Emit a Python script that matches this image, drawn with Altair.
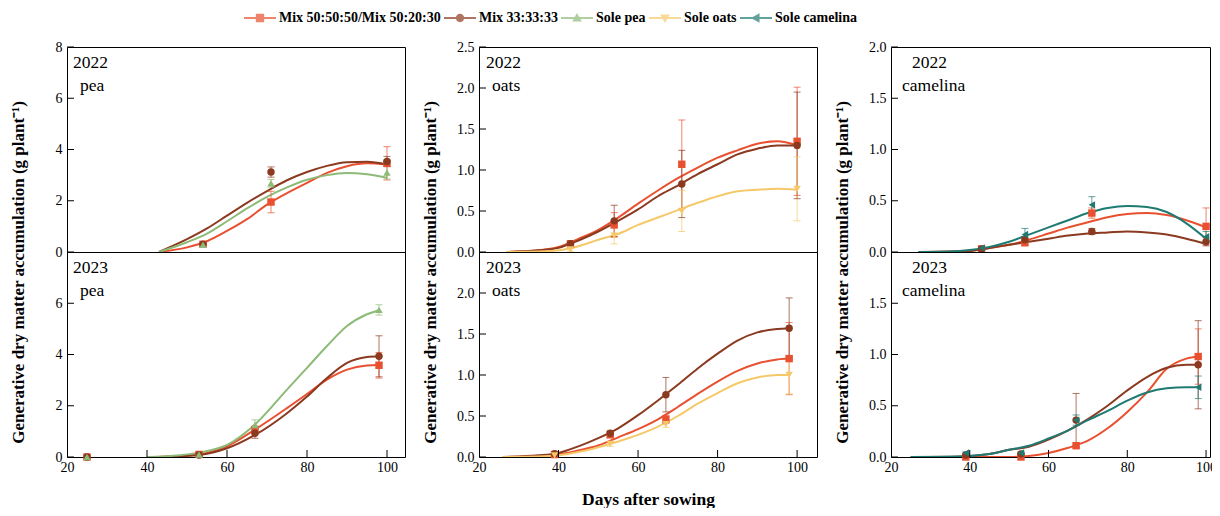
import altair as alt
import pandas as pd

# ---------------- series definitions ----------------
SERIES = ["Mix 50:50:50/Mix 50:20:30", "Mix 33:33:33", "Sole pea", "Sole oats", "Sole camelina"]
COLORS = ["#E8502F", "#8B3A20", "#8DBB77", "#F5C96A", "#1F7A72"]
SHAPES = ["square", "circle", "triangle-up", "triangle-down", "triangle-left"]
LEGEND_PATHS = [
    "M-1,-0.06H1V0.06H-1Z M-0.26,-0.26H0.26V0.26H-0.26Z",
    "M-1,-0.06H1V0.06H-1Z M-0.26,0A0.26,0.26 0 1,1 0.26,0A0.26,0.26 0 1,1 -0.26,0Z",
    "M-1,-0.06H1V0.06H-1Z M0,-0.32L0.3,0.22L-0.3,0.22Z",
    "M-1,-0.06H1V0.06H-1Z M-0.3,-0.22L0.3,-0.22L0,0.32Z",
    "M-1,-0.06H1V0.06H-1Z M-0.32,0L0.22,-0.3L0.22,0.3Z",
]

# ---------------- pea 2022 ----------------
PEA22_CX = [43, 50, 55, 60, 65, 70, 75, 80, 85, 90, 95, 100]
PEA22_C_MIX50 = [0, 0.18, 0.42, 0.82, 1.28, 1.85, 2.3, 2.7, 3.09, 3.35, 3.46, 3.41]
PEA22_C_MIX33 = [0, 0.5, 0.92, 1.42, 1.92, 2.38, 2.8, 3.12, 3.36, 3.5, 3.52, 3.42]
PEA22_C_SOLE = [0, 0.38, 0.72, 1.2, 1.7, 2.15, 2.52, 2.82, 3.0, 3.08, 3.03, 2.9]
PEA22_PX = [54, 71, 100]
PEA22_P_MIX50 = [0.3, 1.95, 3.46]
PEA22_E_MIX50 = [0.05, 0.42, 0.65]
PEA22_P_MIX33 = [0.3, 3.12, 3.53]
PEA22_E_MIX33 = [0.05, 0.2, 0.2]
PEA22_P_SOLE = [0.28, 2.68, 3.1]
PEA22_E_SOLE = [0.05, 0.15, 0.25]

# ---------------- pea 2023 ----------------
PEA23_CX = [40, 45, 53, 60, 67, 75, 80, 85, 90, 95, 98]
PEA23_C_MIX50 = [0, 0.02, 0.1, 0.42, 1.07, 1.91, 2.46, 3.02, 3.41, 3.57, 3.59]
PEA23_C_MIX33 = [0, 0.01, 0.08, 0.34, 0.86, 1.71, 2.36, 3.08, 3.67, 3.9, 3.93]
PEA23_C_SOLE = [0, 0.03, 0.17, 0.47, 1.27, 2.63, 3.48, 4.33, 5.11, 5.57, 5.73]
PEA23_PX = [25, 53, 67, 98]
PEA23_P_MIX50 = [0, 0.1, 1.06, 3.58]
PEA23_E_MIX50 = [0, 0.03, 0.15, 0.5]
PEA23_P_MIX33 = [0, 0.08, 0.93, 3.93]
PEA23_E_MIX33 = [0, 0.03, 0.2, 0.8]
PEA23_P_SOLE = [0, 0.1, 1.25, 5.74]
PEA23_E_SOLE = [0, 0.03, 0.2, 0.2]

# ---------------- oats 2022 ----------------
OAT22_CX = [27, 35, 40, 45, 50, 55, 60, 65, 70, 75, 80, 85, 90, 95, 100]
OAT22_C_MIX50 = [0, 0.02, 0.06, 0.16, 0.27, 0.42, 0.59, 0.75, 0.9, 1.03, 1.15, 1.24, 1.32, 1.35, 1.3]
OAT22_C_MIX33 = [0, 0.02, 0.05, 0.14, 0.25, 0.38, 0.52, 0.68, 0.81, 0.95, 1.07, 1.19, 1.26, 1.3, 1.3]
OAT22_C_SOLE = [0, 0.005, 0.02, 0.07, 0.15, 0.22, 0.33, 0.42, 0.51, 0.6, 0.68, 0.74, 0.76, 0.77, 0.76]
OAT22_PX = [43, 54, 71, 100]
OAT22_P_MIX50 = [0.1, 0.33, 1.07, 1.35]
OAT22_E_MIX50 = [0.03, 0.15, 0.54, 0.66]
OAT22_P_MIX33 = [0.1, 0.38, 0.83, 1.3]
OAT22_E_MIX33 = [0.03, 0.19, 0.41, 0.65]
OAT22_P_SOLE = [0.03, 0.2, 0.5, 0.77]
OAT22_E_SOLE = [0.02, 0.1, 0.25, 0.39]

# ---------------- oats 2023 ----------------
OAT23_CX = [26, 35, 40, 45, 50, 55, 60, 65, 70, 75, 80, 85, 90, 95, 98]
OAT23_C_MIX50 = [0, 0.01, 0.03, 0.08, 0.14, 0.24, 0.34, 0.46, 0.61, 0.77, 0.92, 1.05, 1.14, 1.19, 1.2]
OAT23_C_MIX33 = [0, 0.02, 0.05, 0.13, 0.23, 0.35, 0.51, 0.69, 0.88, 1.08, 1.26, 1.42, 1.52, 1.56, 1.57]
OAT23_C_SOLE = [0, 0.005, 0.02, 0.06, 0.12, 0.19, 0.27, 0.37, 0.5, 0.65, 0.78, 0.9, 0.97, 1.0, 1.0]
OAT23_PX = [39, 53, 67, 98]
OAT23_P_MIX50 = [0.03, 0.27, 0.46, 1.2]
OAT23_E_MIX50 = [0.01, 0.03, 0.05, 0.44]
OAT23_P_MIX33 = [0.04, 0.29, 0.76, 1.57]
OAT23_E_MIX33 = [0.01, 0.03, 0.21, 0.37]
OAT23_P_SOLE = [0.02, 0.16, 0.4, 1.0]
OAT23_E_SOLE = [0.01, 0.03, 0.04, 0.23]

# ---------------- camelina 2022 ----------------
CAM22_CX = [27, 35, 40, 45, 50, 55, 60, 65, 70, 75, 80, 85, 90, 95, 100]
CAM22_C_MIX50 = [0, 0.003, 0.01, 0.04, 0.07, 0.12, 0.18, 0.24, 0.29, 0.34, 0.37, 0.38, 0.36, 0.31, 0.24]
CAM22_C_MIX33 = [0, 0.005, 0.01, 0.04, 0.07, 0.1, 0.13, 0.16, 0.18, 0.19, 0.2, 0.19, 0.17, 0.13, 0.08]
CAM22_C_SOLE = [0, 0.005, 0.02, 0.05, 0.1, 0.17, 0.24, 0.31, 0.38, 0.43, 0.45, 0.44, 0.39, 0.28, 0.13]
CAM22_PX = [43, 54, 71, 100]
CAM22_P_MIX50 = [0.03, 0.09, 0.38, 0.25]
CAM22_E_MIX50 = [0.01, 0.02, 0.05, 0.18]
CAM22_P_MIX33 = [0.03, 0.12, 0.2, 0.1]
CAM22_E_MIX33 = [0.01, 0.02, 0.03, 0.04]
CAM22_P_SOLE = [0.04, 0.17, 0.46, 0.15]
CAM22_E_SOLE = [0.01, 0.06, 0.08, 0.05]

# ---------------- camelina 2023 ----------------
CAM23_CX = [25, 35, 40, 45, 50, 55, 60, 65, 70, 75, 80, 85, 90, 95, 98]
CAM23_C_MIX50 = [0, 0, 0, 0, 0, 0.01, 0.04, 0.09, 0.16, 0.28, 0.44, 0.63, 0.86, 0.96, 0.98]
CAM23_C_MIX33 = [0, 0.002, 0.01, 0.03, 0.07, 0.1, 0.17, 0.26, 0.37, 0.5, 0.65, 0.78, 0.87, 0.9, 0.9]
CAM23_C_SOLE = [0, 0.003, 0.01, 0.03, 0.07, 0.11, 0.18, 0.26, 0.36, 0.45, 0.55, 0.63, 0.67, 0.68, 0.68]
CAM23_PX = [39, 53, 67, 98]
CAM23_P_MIX50 = [0.0, 0.0, 0.11, 0.98]
CAM23_E_MIX50 = [0, 0, 0.02, 0.27]
CAM23_P_MIX33 = [0.02, 0.03, 0.36, 0.9]
CAM23_E_MIX33 = [0.01, 0.01, 0.26, 0.43]
CAM23_P_SOLE = [0.04, 0.04, 0.36, 0.68]
CAM23_E_SOLE = [0.01, 0.01, 0.05, 0.11]

# ---------------- axis ticks ----------------
X_TICKS = [20, 40, 60, 80, 100]
PEA_TICKS_TOP = [0, 2, 4, 6, 8]
PEA_TICKS_BOT = [0, 2, 4, 6]
OAT_TICKS_TOP = [0, 0.5, 1.0, 1.5, 2.0, 2.5]
OAT_TICKS_BOT = [0, 0.5, 1.0, 1.5, 2.0]
CAM_TICKS_TOP = [0, 0.5, 1.0, 1.5, 2.0]
CAM_TICKS_BOT = [0, 0.5, 1.0, 1.5]

FONT = "Liberation Serif"
YTITLE = "Generative dry matter accumulation (g plant\u207b\u00b9)"


def build_frames(cx, curves, px, pts, errs, idx):
    crows, prows = [], []
    for c, i in zip(curves, idx):
        for x, y in zip(cx, c):
            crows.append({"x": x, "y": y, "series": SERIES[i], "col": COLORS[i]})
    for p, e, i in zip(pts, errs, idx):
        for x, y, s in zip(px, p, e):
            prows.append({"x": x, "y": y, "lo": y - s, "hi": y + s, "series": SERIES[i],
                          "col": COLORS[i], "shp": SHAPES[i], "has": s > 0})
    return pd.DataFrame(crows), pd.DataFrame(prows)


def panel(cx, curves, px, pts, errs, idx, xdom, ydom, yticks, width, height,
          year, crop, crop_dx, year_dx, bottom, ytitle, xtitle, fmt):
    cdf, pdf = build_frames(cx, curves, px, pts, errs, idx)
    if bottom:
        xaxis = alt.Axis(values=X_TICKS, ticks=False, domain=False, grid=False, labelPadding=3,
                         title="Days after sowing" if xtitle else None, titlePadding=16,
                         titleFontSize=17.5, labelFlush=False)
    else:
        xaxis = None
    yaxis = alt.Axis(values=yticks, ticks=False, domain=False, grid=False, format=fmt,
                     labelPadding=5,
                     title=YTITLE if ytitle else None, titleX=-49, titleY=height + 20,
                     titleAngle=-90, titleAlign="center", titleBaseline="middle")
    X = alt.X("x:Q", scale=alt.Scale(domain=xdom, nice=False, zero=False), axis=xaxis)
    Y = alt.Y("y:Q", scale=alt.Scale(domain=ydom, nice=False), axis=yaxis)
    col = alt.Color("col:N", scale=None)

    lines = alt.Chart(cdf).mark_line(interpolate="monotone", strokeWidth=2, clip=True).encode(
        x=X, y=Y, color=col, detail="series:N")
    edf = pdf[pdf["has"]]
    rules = alt.Chart(edf).mark_rule(strokeWidth=1, opacity=0.7).encode(
        x=X, y=alt.Y("lo:Q"), y2="hi:Q", color=col)
    cap_hi = alt.Chart(edf).mark_tick(orient="horizontal", size=7, thickness=1, opacity=0.7).encode(
        x=X, y=alt.Y("hi:Q"), color=col)
    cap_lo = alt.Chart(edf).mark_tick(orient="horizontal", size=7, thickness=1, opacity=0.7).encode(
        x=X, y=alt.Y("lo:Q"), color=col)
    points = alt.Chart(pdf).mark_point(filled=True, size=55, opacity=1, clip=False).encode(
        x=X, y=Y, color=col, shape=alt.Shape("shp:N", scale=None))
    ytk = alt.Chart(pd.DataFrame({"y": yticks})).mark_rule(color="black", strokeWidth=1).encode(
        y=Y, x=alt.value(0), x2=alt.value(7))
    layers = [lines, rules, cap_hi, cap_lo, points, ytk]
    if bottom:
        xtk = alt.Chart(pd.DataFrame({"x": X_TICKS})).mark_rule(color="black", strokeWidth=1, clip=True).encode(
            x=X, y=alt.value(height), y2=alt.value(height - 7))
        layers.append(xtk)
    t1 = alt.Chart(pd.DataFrame({"t": [year]})).mark_text(
        font=FONT, fontSize=17.5, align="left", baseline="middle", color="black").encode(
        text="t:N", x=alt.value(year_dx), y=alt.value(16))
    t2 = alt.Chart(pd.DataFrame({"t": [crop]})).mark_text(
        font=FONT, fontSize=17.5, align="left", baseline="middle", color="black").encode(
        text="t:N", x=alt.value(crop_dx), y=alt.value(39))
    layers += [t1, t2]
    return alt.layer(*layers).properties(width=width, height=height)


H = 205
pea_top = panel(PEA22_CX, [PEA22_C_MIX50, PEA22_C_MIX33, PEA22_C_SOLE], PEA22_PX,
                [PEA22_P_MIX50, PEA22_P_MIX33, PEA22_P_SOLE], [PEA22_E_MIX50, PEA22_E_MIX33, PEA22_E_SOLE],
                [0, 1, 2], [20, 104.5], [0, 8], PEA_TICKS_TOP, 338, H, "2022", "pea", 13, 6,
                False, True, False, "d")
pea_bot = panel(PEA23_CX, [PEA23_C_MIX50, PEA23_C_MIX33, PEA23_C_SOLE], PEA23_PX,
                [PEA23_P_MIX50, PEA23_P_MIX33, PEA23_P_SOLE], [PEA23_E_MIX50, PEA23_E_MIX33, PEA23_E_SOLE],
                [0, 1, 2], [20, 104.5], [0, 8], PEA_TICKS_BOT, 338, H, "2023", "pea", 13, 6,
                True, False, False, "d")
oat_top = panel(OAT22_CX, [OAT22_C_MIX50, OAT22_C_MIX33, OAT22_C_SOLE], OAT22_PX,
                [OAT22_P_MIX50, OAT22_P_MIX33, OAT22_P_SOLE], [OAT22_E_MIX50, OAT22_E_MIX33, OAT22_E_SOLE],
                [0, 1, 3], [20, 105], [0, 2.5], OAT_TICKS_TOP, 338, H, "2022", "oats", 13, 7,
                False, True, False, ".1f")
oat_bot = panel(OAT23_CX, [OAT23_C_MIX50, OAT23_C_MIX33, OAT23_C_SOLE], OAT23_PX,
                [OAT23_P_MIX50, OAT23_P_MIX33, OAT23_P_SOLE], [OAT23_E_MIX50, OAT23_E_MIX33, OAT23_E_SOLE],
                [0, 1, 3], [20, 105], [0, 2.5], OAT_TICKS_BOT, 338, H, "2023", "oats", 13, 7,
                True, False, True, ".1f")
cam_top = panel(CAM22_CX, [CAM22_C_MIX50, CAM22_C_MIX33, CAM22_C_SOLE], CAM22_PX,
                [CAM22_P_MIX50, CAM22_P_MIX33, CAM22_P_SOLE], [CAM22_E_MIX50, CAM22_E_MIX33, CAM22_E_SOLE],
                [0, 1, 4], [20, 101], [0, 2], CAM_TICKS_TOP, 319, H, "2022", "camelina", 11, 21,
                False, True, False, ".1f")
cam_bot = panel(CAM23_CX, [CAM23_C_MIX50, CAM23_C_MIX33, CAM23_C_SOLE], CAM23_PX,
                [CAM23_P_MIX50, CAM23_P_MIX33, CAM23_P_SOLE], [CAM23_E_MIX50, CAM23_E_MIX33, CAM23_E_SOLE],
                [0, 1, 4], [20, 101], [0, 2], CAM_TICKS_BOT, 319, H, "2023", "camelina", 11, 21,
                True, False, False, ".1f")

# legend-only layer (clipped away inside the top-left panel)
leg = alt.Legend(title=None, orient="none", legendX=177, legendY=-45, direction="horizontal",
                 labelFont=FONT, labelFontWeight="bold", labelFontSize=14, labelColor="black",
                 labelLimit=400, symbolSize=1024, symbolStrokeWidth=0, columnPadding=3,
                 labelOffset=3, symbolOpacity=1)
legend_layer = alt.Chart(pd.DataFrame({"series": SERIES})).mark_point(
    filled=True, clip=True, size=1024, opacity=1).encode(
    x=alt.value(-3000), y=alt.value(-3000),
    color=alt.Color("series:N", scale=alt.Scale(domain=SERIES, range=COLORS), legend=leg),
    shape=alt.Shape("series:N", scale=alt.Scale(domain=SERIES, range=LEGEND_PATHS), legend=leg),
)
pea_top = alt.layer(pea_top, legend_layer)

col1 = alt.vconcat(pea_top, pea_bot, spacing=0, bounds="flush")
col2 = alt.vconcat(oat_top, oat_bot, spacing=0, bounds="flush")
col3 = alt.vconcat(cam_top, cam_bot, spacing=0, bounds="flush")

chart = alt.hconcat(col1, col2, col3, spacing=14).properties(
    autosize=alt.AutoSizeParams(type="none"),
    padding={"left": 59, "top": 39, "right": 1145, "bottom": 461}
).resolve_scale(x="independent", y="independent").configure_view(
    stroke="black", strokeWidth=1
).configure_axis(
    labelFont=FONT, labelFontSize=14, labelColor="black",
    titleFont=FONT, titleFontSize=17, titleFontWeight="bold", titleColor="black"
)

chart.save("out.html", embed_options={"renderer": "svg", "actions": False})
